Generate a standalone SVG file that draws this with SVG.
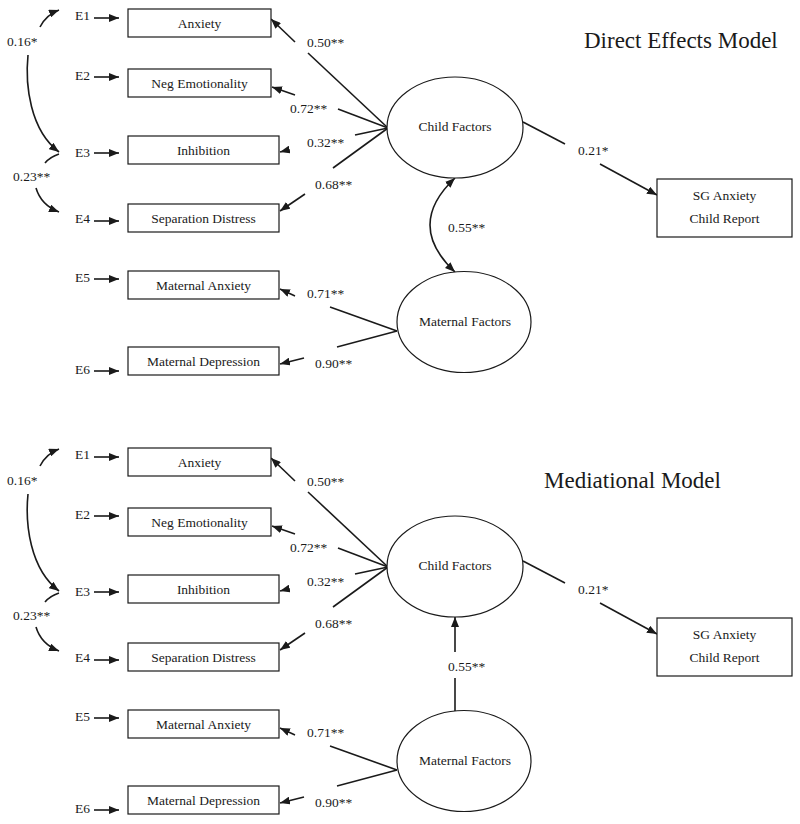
<svg xmlns="http://www.w3.org/2000/svg" width="800" height="824" viewBox="0 0 800 824">
<defs>
<marker id="ah" markerUnits="userSpaceOnUse" markerWidth="10" markerHeight="8" refX="10" refY="4" orient="auto-start-reverse">
<path d="M0,0 L10,4 L0,8 z" fill="#1a1a1a"/>
</marker>
</defs>
<style>
text{font-family:"Liberation Serif","Times New Roman",serif;fill:#1a1a1a;font-size:13.5px}
.t{text-anchor:middle}
.title{font-size:23px}
.box{fill:#fff;stroke:#1a1a1a;stroke-width:1.2}
.ell{fill:#fff;stroke:#1a1a1a;stroke-width:1.2}
.c{fill:none;stroke:#1a1a1a;stroke-width:1.6}
.a{fill:none;stroke:#1a1a1a;stroke-width:1.6;marker-end:url(#ah)}
</style>
<rect width="800" height="824" fill="#fff"/>

<!-- ===== Direct Effects Model ===== -->
<g id="model-direct">
<text class="title" x="584" y="48">Direct Effects Model</text>
<g id="connectors-direct">
<!-- error arrows -->
<path class="a" d="M94,18 L119,18"/>
<path class="a" d="M94,77 L119,77"/>
<path class="a" d="M94,153 L119,153"/>
<path class="a" d="M94,221 L119,221"/>
<path class="a" d="M94,279 L119,279"/>
<path class="a" d="M94,371 L119,371"/>
<!-- correlations among errors -->
<path class="a" d="M40,27 Q46,15 59,10"/>
<path class="a" d="M28,55 C25,85 30,130 59,152"/>
<text x="7" y="46">0.16*</text>
<path class="c" d="M59,154 Q50,157 45,163"/>
<path class="a" d="M36,188 Q41,205 59,212"/>
<text x="13" y="181">0.23**</text>
<!-- child loadings -->
<path class="c" d="M388,128 L308,53"/>
<path class="a" d="M295,42 L271,19"/>
<text x="307" y="47">0.50**</text>
<path class="c" d="M388,128 L338,109"/>
<path class="a" d="M295,95 L272,87"/>
<text x="290" y="113">0.72**</text>
<path class="c" d="M388,128 L355,135"/>
<path class="a" d="M288,150 L280,152"/>
<text x="307" y="147">0.32**</text>
<path class="c" d="M388,128 L333,168"/>
<path class="a" d="M305,194 L280,211"/>
<text x="315" y="189">0.68**</text>
<!-- maternal loadings -->
<path class="c" d="M397,331 L330,307"/>
<path class="a" d="M295,296 L280,289"/>
<text x="307" y="298">0.71**</text>
<path class="c" d="M397,331 L337,347"/>
<path class="a" d="M304,358 L280,364"/>
<text x="315" y="368">0.90**</text>
<!-- structural paths -->
<path class="c" d="M523,122 L565,144"/>
<path class="a" d="M600,164 L657,195"/>
<text x="578" y="155">0.21*</text>
<path class="c" d="M455,178 Q405,225 455,272" marker-start="url(#ah)" marker-end="url(#ah)"/>
<text x="448" y="232">0.55**</text>
</g>
<g id="E1-d"><text x="75" y="20">E1</text></g>
<g id="E2-d"><text x="75" y="80">E2</text></g>
<g id="E3-d"><text x="75" y="157">E3</text></g>
<g id="E4-d"><text x="75" y="223">E4</text></g>
<g id="E5-d"><text x="75" y="282">E5</text></g>
<g id="E6-d"><text x="75" y="374">E6</text></g>
<g id="anxiety-d"><rect class="box" x="128" y="9" width="143" height="28"/><text class="t" x="199.5" y="28">Anxiety</text></g>
<g id="negemo-d"><rect class="box" x="128" y="69" width="143" height="28"/><text class="t" x="199.5" y="88">Neg Emotionality</text></g>
<g id="inhibition-d"><rect class="box" x="128" y="136" width="151" height="28"/><text class="t" x="203.5" y="155">Inhibition</text></g>
<g id="sepdistress-d"><rect class="box" x="128" y="204" width="151" height="28"/><text class="t" x="203.5" y="223">Separation Distress</text></g>
<g id="matanx-d"><rect class="box" x="128" y="271" width="151" height="28"/><text class="t" x="203.5" y="290">Maternal Anxiety</text></g>
<g id="matdep-d"><rect class="box" x="128" y="347" width="151" height="28"/><text class="t" x="203.5" y="366">Maternal Depression</text></g>
<g id="child-d"><ellipse class="ell" cx="455" cy="127.5" rx="68" ry="50.5"/><text class="t" x="455" y="131">Child Factors</text></g>
<g id="maternal-d"><ellipse class="ell" cx="464" cy="322" rx="67" ry="50.5"/><text class="t" x="465" y="326">Maternal Factors</text></g>
<g id="sg-d"><rect class="box" x="657" y="179" width="135" height="58"/><text class="t" x="724.5" y="200">SG Anxiety</text><text class="t" x="724.5" y="223">Child Report</text></g>
</g>

<!-- ===== Mediational Model ===== -->
<g id="model-mediational" transform="translate(0,439)">
<text class="title" x="544" y="49">Mediational Model</text>
<g id="connectors-med">
<path class="a" d="M94,18 L119,18"/>
<path class="a" d="M94,77 L119,77"/>
<path class="a" d="M94,153 L119,153"/>
<path class="a" d="M94,221 L119,221"/>
<path class="a" d="M94,279 L119,279"/>
<path class="a" d="M94,371 L119,371"/>
<path class="a" d="M40,27 Q46,15 59,10"/>
<path class="a" d="M28,55 C25,85 30,130 59,152"/>
<text x="7" y="46">0.16*</text>
<path class="c" d="M59,154 Q50,157 45,163"/>
<path class="a" d="M36,188 Q41,205 59,212"/>
<text x="13" y="181">0.23**</text>
<path class="c" d="M388,128 L308,53"/>
<path class="a" d="M295,42 L271,19"/>
<text x="307" y="47">0.50**</text>
<path class="c" d="M388,128 L338,109"/>
<path class="a" d="M295,95 L272,87"/>
<text x="290" y="113">0.72**</text>
<path class="c" d="M388,128 L355,135"/>
<path class="a" d="M288,150 L280,152"/>
<text x="307" y="147">0.32**</text>
<path class="c" d="M388,128 L333,168"/>
<path class="a" d="M305,194 L280,211"/>
<text x="315" y="189">0.68**</text>
<path class="c" d="M397,331 L330,307"/>
<path class="a" d="M295,296 L280,289"/>
<text x="307" y="298">0.71**</text>
<path class="c" d="M397,331 L337,347"/>
<path class="a" d="M304,358 L280,364"/>
<text x="315" y="368">0.90**</text>
<path class="c" d="M523,122 L565,144"/>
<path class="a" d="M600,164 L657,195"/>
<text x="578" y="155">0.21*</text>
<path class="c" d="M455,272 L455,239"/>
<path class="a" d="M455,213 L455,178"/>
<text x="448" y="232">0.55**</text>
</g>
<g id="E1-m"><text x="75" y="20">E1</text></g>
<g id="E2-m"><text x="75" y="80">E2</text></g>
<g id="E3-m"><text x="75" y="157">E3</text></g>
<g id="E4-m"><text x="75" y="223">E4</text></g>
<g id="E5-m"><text x="75" y="282">E5</text></g>
<g id="E6-m"><text x="75" y="374">E6</text></g>
<g id="anxiety-m"><rect class="box" x="128" y="9" width="143" height="28"/><text class="t" x="199.5" y="28">Anxiety</text></g>
<g id="negemo-m"><rect class="box" x="128" y="69" width="143" height="28"/><text class="t" x="199.5" y="88">Neg Emotionality</text></g>
<g id="inhibition-m"><rect class="box" x="128" y="136" width="151" height="28"/><text class="t" x="203.5" y="155">Inhibition</text></g>
<g id="sepdistress-m"><rect class="box" x="128" y="204" width="151" height="28"/><text class="t" x="203.5" y="223">Separation Distress</text></g>
<g id="matanx-m"><rect class="box" x="128" y="271" width="151" height="28"/><text class="t" x="203.5" y="290">Maternal Anxiety</text></g>
<g id="matdep-m"><rect class="box" x="128" y="347" width="151" height="28"/><text class="t" x="203.5" y="366">Maternal Depression</text></g>
<g id="child-m"><ellipse class="ell" cx="455" cy="127.5" rx="68" ry="50.5"/><text class="t" x="455" y="131">Child Factors</text></g>
<g id="maternal-m"><ellipse class="ell" cx="464" cy="322" rx="67" ry="50.5"/><text class="t" x="465" y="326">Maternal Factors</text></g>
<g id="sg-m"><rect class="box" x="657" y="179" width="135" height="58"/><text class="t" x="724.5" y="200">SG Anxiety</text><text class="t" x="724.5" y="223">Child Report</text></g>
</g>
</svg>
